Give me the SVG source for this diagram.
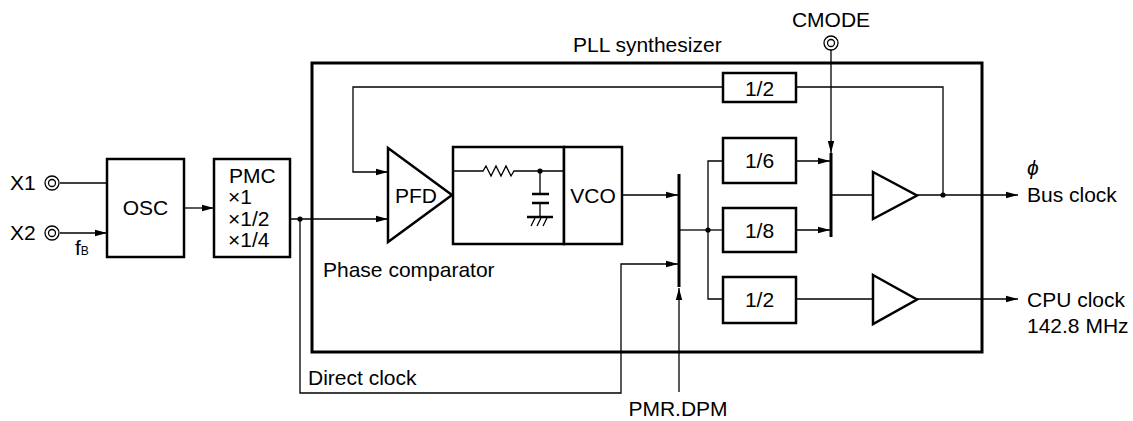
<svg xmlns="http://www.w3.org/2000/svg" width="1133" height="421" viewBox="0 0 1133 421">
<style>
text{font-family:"Liberation Sans",Arial,sans-serif;font-size:21px;fill:#000}
.box{fill:#fff;stroke:#000;stroke-width:2.5}
.w{fill:none;stroke:#000;stroke-width:1.3}
.bar{stroke:#000;stroke-width:3;fill:none}
.tri{fill:#fff;stroke:#000;stroke-width:2.5;stroke-linejoin:miter}
.c{text-anchor:middle}
</style>
<defs>
<marker id="ah" viewBox="0 0 12 8" refX="12" refY="4" markerWidth="12" markerHeight="8" markerUnits="userSpaceOnUse" orient="auto">
<path d="M0,0.8 L12,4 L0,7.2 Z" fill="#000"/>
</marker>
</defs>
<rect width="1133" height="421" fill="#fff"/>

<g id="pll">
<rect x="312" y="63" width="670" height="289" fill="none" stroke="#000" stroke-width="3"/>
<text x="573" y="52">PLL synthesizer</text>
</g>

<g id="connectors">
<path class="w" d="M60,183 H107"/>
<path class="w" d="M60,233 H107" marker-end="url(#ah)"/>
<path class="w" d="M184,208 H214" marker-end="url(#ah)"/>
<path class="w" d="M290,219 H388" marker-end="url(#ah)"/>
<path class="w" d="M300,219 V393 H621 V264 H678" marker-end="url(#ah)"/>
<path class="w" d="M723,87 H353 V172 H388" marker-end="url(#ah)"/>
<path class="w" d="M796,87 H943 V195"/>
<path class="w" d="M622,195 H678" marker-end="url(#ah)"/>
<path class="w" d="M679,392 V288" marker-end="url(#ah)"/>
<path class="w" d="M679,230 H708"/>
<path class="w" d="M723,161 H708 V299 H723"/>
<path class="w" d="M708,230 H723"/>
<path class="w" d="M796,161 H830" marker-end="url(#ah)"/>
<path class="w" d="M796,230 H830" marker-end="url(#ah)"/>
<path class="w" d="M831,50 V153" marker-end="url(#ah)"/>
<path class="w" d="M831,195 H873"/>
<path class="w" d="M796,299 H873"/>
<path class="w" d="M917,195 H1018" marker-end="url(#ah)"/>
<path class="w" d="M917,299 H1018" marker-end="url(#ah)"/>
<circle cx="300" cy="219" r="2.6" fill="#000"/>
<circle cx="708" cy="230" r="2.6" fill="#000"/>
<circle cx="943" cy="195" r="2.6" fill="#000"/>
</g>

<g id="x1">
<circle cx="52" cy="183" r="7" fill="#fff" stroke="#000" stroke-width="1.3"/>
<circle cx="52" cy="183" r="3.5" fill="none" stroke="#000" stroke-width="1.3"/>
<text x="10" y="190">X1</text>
</g>
<g id="x2">
<circle cx="52" cy="233" r="7" fill="#fff" stroke="#000" stroke-width="1.3"/>
<circle cx="52" cy="233" r="3.5" fill="none" stroke="#000" stroke-width="1.3"/>
<text x="10" y="240">X2</text>
<text x="75" y="255" font-size="17">f<tspan font-size="12">B</tspan></text>
</g>

<g id="osc">
<rect class="box" x="107" y="159" width="77" height="98"/>
<text class="c" x="145.5" y="215">OSC</text>
</g>

<g id="pmc">
<rect class="box" x="214" y="159" width="76" height="98"/>
<text x="229" y="183">PMC</text>
<text x="228" y="204">×1</text>
<text x="228" y="226">×1/2</text>
<text x="228" y="247">×1/4</text>
</g>

<g id="pfd">
<path class="tri" d="M388,148 L452,195 L388,242 Z"/>
<text x="395" y="203">PFD</text>
<text x="323" y="277">Phase comparator</text>
</g>

<g id="loopfilter">
<rect class="box" x="453" y="147" width="111" height="97"/>
<path class="w" d="M453,171 H483 l3,-5 l5,10 l5,-10 l5,10 l5,-10 l5,10 l3,-5 H564"/>
<circle cx="540" cy="171" r="2.6" fill="#000"/>
<path class="w" d="M540,171 V194 M540,203 V217"/>
<path d="M532,194 H549 M532,203 H549" stroke="#000" stroke-width="2.5"/>
<path d="M527,217 H553" stroke="#000" stroke-width="2.5"/>
<path class="w" d="M535,218 l-4,8 M541,218 l-4,8 M547,218 l-4,8"/>
</g>

<g id="vco">
<rect class="box" x="564" y="147" width="58" height="97"/>
<text class="c" x="593" y="203">VCO</text>
</g>

<g id="mux1">
<path class="bar" d="M679,174 V287"/>
<text class="c" x="678" y="416">PMR.DPM</text>
</g>

<g id="div2top">
<rect class="box" x="723" y="73" width="73" height="29"/>
<text class="c" x="759.5" y="96">1/2</text>
</g>
<g id="div6">
<rect class="box" x="723" y="138" width="73" height="45"/>
<text class="c" x="759.5" y="168">1/6</text>
</g>
<g id="div8">
<rect class="box" x="723" y="208" width="73" height="44"/>
<text class="c" x="759.5" y="238">1/8</text>
</g>
<g id="div2low">
<rect class="box" x="723" y="277" width="73" height="46"/>
<text class="c" x="759.5" y="307">1/2</text>
</g>

<g id="cmode">
<circle cx="831" cy="43" r="7" fill="#fff" stroke="#000" stroke-width="1.3"/>
<circle cx="831" cy="43" r="3.5" fill="none" stroke="#000" stroke-width="1.3"/>
<text class="c" x="831" y="27">CMODE</text>
</g>

<g id="mux2">
<path class="bar" d="M831,153 V237"/>
</g>

<g id="buf1">
<path class="tri" d="M873,172 L917,195.5 L873,219 Z"/>
</g>
<g id="buf2">
<path class="tri" d="M873,275 L917,299.5 L873,324 Z"/>
</g>

<g id="busclock">
<text x="1027" y="175" font-style="italic">ϕ</text>
<text x="1027" y="202">Bus clock</text>
</g>
<g id="cpuclock">
<text x="1027" y="307">CPU clock</text>
<text x="1027" y="333">142.8 MHz</text>
</g>

<g id="direct">
<text x="308" y="385">Direct clock</text>
</g>
</svg>
